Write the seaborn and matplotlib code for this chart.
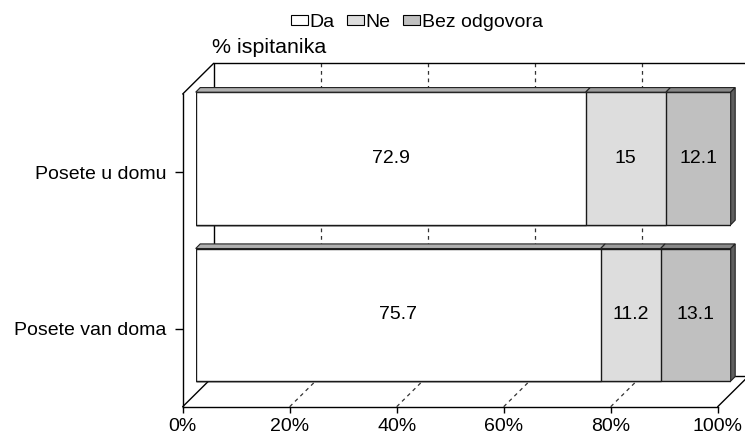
import matplotlib
matplotlib.use("Agg")
import matplotlib.pyplot as plt
from matplotlib.patches import Polygon, Patch
from matplotlib.lines import Line2D
import seaborn as sns
import pandas as pd
import numpy as np

# ---- data ----
categories = ["Posete u domu", "Posete van doma"]
series = ["Da", "Ne", "Bez odgovora"]
da = [72.9, 75.7]
ne = [15, 11.2]
bez = [12.1, 13.1]
x_ticks = [0, 20, 40, 60, 80, 100]
x_tick_labels = ["0%", "20%", "40%", "60%", "80%", "100%"]
axis_title = "% ispitanika"

colors = ["#FFFFFF", "#DDDDDD", "#C0C0C0"]
top_colors = ["#B0B0B0", "#9C9C9C", "#888888"]
side_color = "#5F5F5F"

sns.set_theme(style="white")
plt.rcParams["font.family"] = ["Liberation Sans", "DejaVu Sans"]
plt.rcParams["text.color"] = "black"
plt.rcParams["xtick.color"] = "black"
plt.rcParams["ytick.color"] = "black"
plt.rcParams["axes.labelcolor"] = "black"
FS = 14

W, H, DPI = 745, 437, 100
fig = plt.figure(figsize=(W / DPI, H / DPI), dpi=DPI)
fig.patch.set_facecolor("white")

# front plane geometry (pixels)
fx0, fx1 = 182.7, 717.7
fy_top, fy_bot = 94.0, 406.7
aw, ah = fx1 - fx0, fy_bot - fy_top
px_x = aw / 100.0            # pixels per percent
px_c = ah / 2.0              # pixels per category
wall_dx, wall_dy = 31.0, 30.7   # full depth offset (px)
bar_dx, bar_dy = 13.0, 13.7     # bar front offset (px)
face_dx, face_dy = 4.5, 4.6     # bar depth (px)

ax = fig.add_axes([fx0 / W, (H - fy_bot) / H, aw / W, ah / H])
axb = fig.add_axes([(fx0 + bar_dx) / W, (H - fy_bot + bar_dy) / H, aw / W, ah / H])
for a in (ax, axb):
    a.set_xlim(0, 100)
    a.set_ylim(1.5, -0.5)
    a.patch.set_alpha(0)

# ---- front plane axes (ticks / spines) ----
for s in ("top", "right"):
    ax.spines[s].set_visible(False)
for s in ("left", "bottom"):
    ax.spines[s].set_color("black")
    ax.spines[s].set_linewidth(1.0)
ax.set_xticks(x_ticks)
ax.set_xticklabels(x_tick_labels, fontsize=FS, color="black")
ax.set_yticks(range(len(categories)))
ax.set_yticklabels(categories, fontsize=FS, color="black")
ax.tick_params(axis="x", direction="out", length=4.5, width=1, color="black", pad=3.5)
ax.tick_params(axis="y", direction="out", length=6, width=1, color="black", pad=6)
ax.tick_params(left=True, bottom=True)

DX = wall_dx / px_x
DY = -wall_dy / px_c
ytop, ybot = -0.5, 1.5
lkw = dict(color="black", lw=1.0, clip_on=False, zorder=2)
# back wall
ax.add_line(Line2D([DX, 100 + DX + 5], [ytop + DY, ytop + DY], **lkw))
ax.add_line(Line2D([DX, DX], [ytop + DY, ybot + DY], **lkw))
# left wall top edge
ax.add_line(Line2D([0, DX], [ytop, ytop + DY], **lkw))
# floor
ax.add_line(Line2D([0, DX], [ybot, ybot + DY], **lkw))
ax.add_line(Line2D([100, 100 + DX], [ybot, ybot + DY], **lkw))
ax.add_line(Line2D([DX, 100 + DX + 5], [ybot + DY, ybot + DY], **lkw))
# gridlines on back wall and floor
gkw = dict(color="#333333", lw=0.9, clip_on=False, zorder=1, dashes=(3, 3))
for xv in x_ticks[1:-1]:
    ax.add_line(Line2D([xv + DX, xv + DX], [ytop + DY, ybot + DY], **gkw))
    ax.add_line(Line2D([xv, xv + DX], [ybot, ybot + DY], **gkw))

# ---- bars (stacked via cumulative totals) ----
df = pd.DataFrame({"category": categories, "Da": da, "Ne": ne, "Bez odgovora": bez})
df["c1"] = df["Da"]
df["c2"] = df["Da"] + df["Ne"]
df["c3"] = df["Da"] + df["Ne"] + df["Bez odgovora"]
bar_w = 132.6 / px_c
for col, colr in zip(["c3", "c2", "c1"], colors[::-1]):
    sns.barplot(data=df, x=col, y="category", order=categories, color=colr,
                width=bar_w, edgecolor="#1a1a1a", linewidth=1.0, errorbar=None,
                saturation=1, ax=axb, orient="h")
axb.set_xlim(0, 100)
axb.set_ylim(1.5, -0.5)
axb.axis("off")

fdx = face_dx / px_x
fdy = -face_dy / px_c
for i, cat in enumerate(categories):
    vals = [df.loc[i, "Da"], df.loc[i, "Ne"], df.loc[i, "Bez odgovora"]]
    yt = i - bar_w / 2
    yb = i + bar_w / 2
    left = 0.0
    for v, tc in zip(vals, top_colors):
        x0, x1 = left, left + v
        axb.add_patch(Polygon([(x0, yt), (x1, yt), (x1 + fdx, yt + fdy), (x0 + fdx, yt + fdy)],
                              closed=True, facecolor=tc, edgecolor="#222222", lw=0.8,
                              clip_on=False, zorder=5))
        axb.text((x0 + x1) / 2, i, f"{v:g}", ha="center", va="center", fontsize=FS,
                 color="black", zorder=6)
        left = x1
    axb.add_patch(Polygon([(left, yt), (left + fdx, yt + fdy), (left + fdx, yb + fdy), (left, yb)],
                          closed=True, facecolor=side_color, edgecolor="#222222", lw=0.8,
                          clip_on=False, zorder=5))

# ---- titles & legend ----
fig.text(211.7 / W, 1 - 47.5 / H, axis_title, ha="left", va="center", fontsize=15.4,
         color="black")
handles = [Patch(facecolor=c, edgecolor="black", lw=0.8) for c in colors]
fig.legend(handles, series, loc="center", bbox_to_anchor=(417 / W, 1 - 22.5 / H),
           ncol=3, frameon=False, fontsize=FS, handlelength=0.85, handleheight=0.45,
           handletextpad=0.1, columnspacing=0.65, borderpad=0, labelcolor="black")

fig.savefig("out.png", dpi=DPI, facecolor="white")
